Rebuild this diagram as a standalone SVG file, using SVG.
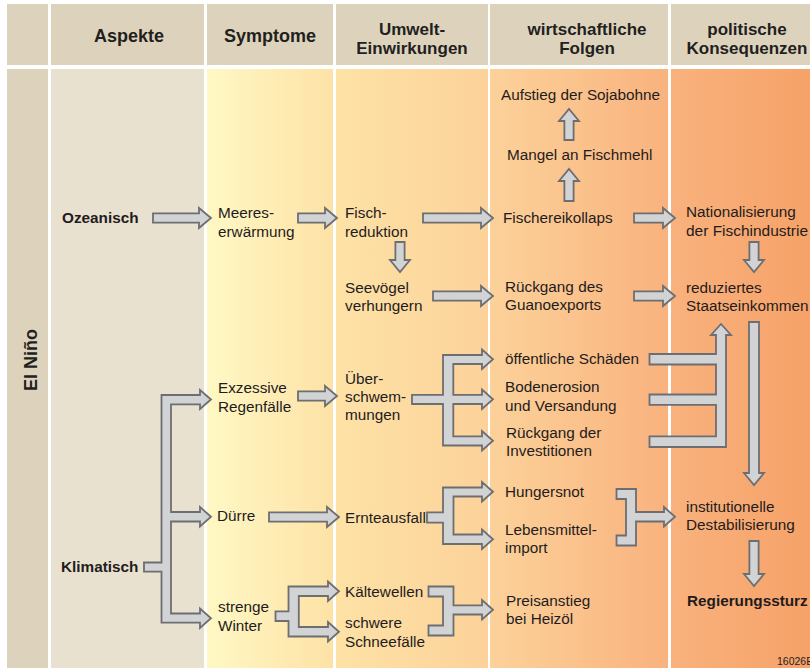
<svg xmlns="http://www.w3.org/2000/svg" width="810" height="669" viewBox="0 0 810 669">
<defs>
<linearGradient id="bg" gradientUnits="userSpaceOnUse" x1="207" y1="0" x2="810" y2="0">
<stop offset="0" stop-color="#fff8c4"/>
<stop offset="0.209" stop-color="#fde2a6"/>
<stop offset="0.466" stop-color="#fcd29a"/>
<stop offset="0.764" stop-color="#f9b27e"/>
<stop offset="1" stop-color="#f6a268"/>
</linearGradient>
<style>
.hd{fill:#ddd3bc}
.asp{fill:#e9e1cf}
.col{fill:url(#bg)}
.t{font-family:"Liberation Sans",Arial,sans-serif;font-size:15.3px;fill:#1f1c1d}
.b{font-weight:bold}
.h{font-family:"Liberation Sans",Arial,sans-serif;font-size:18px;font-weight:bold;fill:#231f20;text-anchor:middle}
.h2{font-size:17px}
.a{fill:#d2d3d5;stroke:#6d6e71;stroke-width:1.8;stroke-linejoin:miter}
.code{font-family:"Liberation Sans",Arial,sans-serif;font-size:10.5px;fill:#231f20}
</style>
</defs>
<rect width="810" height="669" fill="#ffffff"/>
<g id="background">
<rect class="hd" x="7" y="4" width="41" height="61"/>
<rect class="hd" x="51" y="4" width="153" height="61"/>
<rect class="hd" x="207" y="4" width="126" height="61"/>
<rect class="hd" x="336" y="4" width="152" height="61"/>
<rect class="hd" x="490" y="4" width="178" height="61"/>
<rect class="hd" x="671" y="4" width="139" height="61"/>
<rect class="hd" x="7" y="69" width="41" height="599"/>
<rect class="asp" x="51" y="69" width="153" height="599"/>
<rect class="col" x="207" y="69" width="126" height="599"/>
<rect class="col" x="336" y="69" width="152" height="599"/>
<rect class="col" x="490" y="69" width="178" height="599"/>
<rect class="col" x="671" y="69" width="139" height="599"/>
</g>
<g id="headers">
<text class="h" x="129" y="42">Aspekte</text>
<text class="h" x="270" y="42">Symptome</text>
<text class="h h2" x="412" y="35">Umwelt-</text>
<text class="h h2" x="412" y="54">Einwirkungen</text>
<text class="h h2" x="587" y="35">wirtschaftliche</text>
<text class="h h2" x="587" y="54">Folgen</text>
<text class="h h2" x="747" y="35">politische</text>
<text class="h h2" x="747" y="54">Konsequenzen</text>
</g>
<g id="elnino"><text class="h" font-size="21" transform="translate(37,360) rotate(-90)">El Niño</text></g>
<g id="connectors">
<path class="a" d="M153,213.4 H199 V208 L211,218 L199,228 V222.6 H153Z"/>
<path class="a" d="M298,213.4 H325 V208 L337,218 L325,228 V222.6 H298Z"/>
<path class="a" d="M423,213.4 H481 V208 L493,218 L481,228 V222.6 H423Z"/>
<path class="a" d="M433,291.4 H481 V286 L493,296 L481,306 V300.6 H433Z"/>
<path class="a" d="M634,213.4 H663 V208 L675,218 L663,228 V222.6 H634Z"/>
<path class="a" d="M634,291.4 H663 V286 L675,296 L663,306 V300.6 H634Z"/>
<path class="a" d="M298,391.4 H325 V386 L337,396 L325,406 V400.6 H298Z"/>
<path class="a" d="M269,512.4 H327 V507 L339,517 L327,527 V521.6 H269Z"/>
<path class="a" d="M395.4,242 V260 H390 L400,272 L410,260 H404.6 V242Z"/>
<path class="a" d="M749.4,242 V260 H744 L754,272 L764,260 H758.6 V242Z"/>
<path class="a" d="M749,322 V473 H744 L754,485 L764,473 H759 V322Z"/>
<path class="a" d="M749.4,541 V574 H744 L754,586 L764,574 H758.6 V541Z"/>
<path class="a" d="M564.4,140 V121 H559 L569,109 L579,121 H573.6 V140Z"/>
<path class="a" d="M564.4,201 V181 H559 L569,169 L579,181 H573.6 V201Z"/>
<path class="a" d="M144,562.5 H161.5 V395 H200 V390 L211,399.5 L200,409 V404.3 H171 V512 H200 V507 L211,516.7 L200,526.5 V521.5 H171 V613.5 H200 V608.5 L211,618.3 L200,628 V622.7 H161.5 V571.7 H144 Z"/>
<path class="a" d="M412,394.8 H443 V355 H482 V349.5 L493,359.3 L482,369 V364 H453.3 V394.8 H482 V389.5 L493,399.3 L482,409 V404 H453.3 V436.3 H482 V431 L493,440.8 L482,450.5 V445.5 H443 V404 H412 Z"/>
<path class="a" d="M427,512.4 H443 V487.5 H482 V482 L493,491.7 L482,501.5 V496.5 H453.5 V534.5 H482 V529.5 L493,539.3 L482,549 V544 H443 V522.6 H427 Z"/>
<path class="a" d="M275.5,611.3 H288.5 V586.5 H328 V581.5 L339,591.3 L328,601 V596 H298.8 V627 H328 V622 L339,631.7 L328,641.5 V636.5 H288.5 V621 H275.5 Z"/>
<path class="a" d="M428.5,586.5 H453.5 V605.3 H482 V600 L493,609.8 L482,619.5 V614.5 H453.5 V635.5 H428.5 V625.5 H443 V596.5 H428.5 Z"/>
<path class="a" d="M616.5,489 H636 V512 H664 V507 L675,516.7 L664,526.5 V521.5 H636 V545.5 H616.5 V535.5 H626 V499 H616.5 Z"/>
<path class="a" d="M649.5,354 H716 V335 H711 L721,324 L731,335 H726 V447 H649.5 V436.3 H716 V404.8 H649.5 V394.5 H716 V364.5 H649.5 Z"/>
</g>
<g id="ozeanisch"><text class="t b" x="62" y="223">Ozeanisch</text></g>
<g id="klimatisch"><text class="t b" x="61" y="571.5">Klimatisch</text></g>
<g id="meereserwaermung"><text class="t" x="218" y="218">Meeres-</text><text class="t" x="218" y="236.5">erwärmung</text></g>
<g id="exzessive"><text class="t" x="218" y="393.3">Exzessive</text><text class="t" x="218" y="411.7">Regenfälle</text></g>
<g id="duerre"><text class="t" x="217" y="521">Dürre</text></g>
<g id="strengewinter"><text class="t" x="218" y="611.5">strenge</text><text class="t" x="218" y="630.5">Winter</text></g>
<g id="fischreduktion"><text class="t" x="345" y="218">Fisch-</text><text class="t" x="345" y="236.7">reduktion</text></g>
<g id="seevoegel"><text class="t" x="345" y="293">Seevögel</text><text class="t" x="345" y="311">verhungern</text></g>
<g id="ueberschwemmungen"><text class="t" x="345" y="384">Über-</text><text class="t" x="345" y="402">schwem-</text><text class="t" x="345" y="420">mungen</text></g>
<g id="ernteausfall"><text class="t" x="345" y="523.3">Ernteausfall</text></g>
<g id="kaeltewellen"><text class="t" x="345" y="596.7">Kältewellen</text></g>
<g id="schneefaelle"><text class="t" x="345" y="628.3">schwere</text><text class="t" x="345" y="646.7">Schneefälle</text></g>
<g id="sojabohne"><text class="t" x="501" y="100">Aufstieg der Sojabohne</text></g>
<g id="fischmehl"><text class="t" x="507" y="160">Mangel an Fischmehl</text></g>
<g id="fischereikollaps"><text class="t" x="503" y="223.3">Fischereikollaps</text></g>
<g id="guano"><text class="t" x="505" y="292.3">Rückgang des</text><text class="t" x="505" y="310.3">Guanoexports</text></g>
<g id="schaeden"><text class="t" x="505" y="364.3">öffentliche Schäden</text></g>
<g id="bodenerosion"><text class="t" x="505" y="392">Bodenerosion</text><text class="t" x="505" y="410.5">und Versandung</text></g>
<g id="investitionen"><text class="t" x="506" y="438.3">Rückgang der</text><text class="t" x="506" y="456.3">Investitionen</text></g>
<g id="hungersnot"><text class="t" x="505" y="496.7">Hungersnot</text></g>
<g id="lebensmittel"><text class="t" x="505" y="535">Lebensmittel-</text><text class="t" x="505" y="553.3">import</text></g>
<g id="heizoel"><text class="t" x="506" y="606">Preisanstieg</text><text class="t" x="506" y="624">bei Heizöl</text></g>
<g id="nationalisierung"><text class="t" x="686" y="217.3">Nationalisierung</text><text class="t" x="686" y="235.7" textLength="122" lengthAdjust="spacingAndGlyphs">der Fischindustrie</text></g>
<g id="staatseinkommen"><text class="t" x="686" y="292.7">reduziertes</text><text class="t" x="686" y="310.7">Staatseinkommen</text></g>
<g id="destabilisierung"><text class="t" x="686" y="511.7">institutionelle</text><text class="t" x="686" y="530">Destabilisierung</text></g>
<g id="regierungssturz"><text class="t b" x="687" y="606">Regierungssturz</text></g>
<g id="code"><text class="code" x="777" y="665">16026E</text></g>
</svg>
